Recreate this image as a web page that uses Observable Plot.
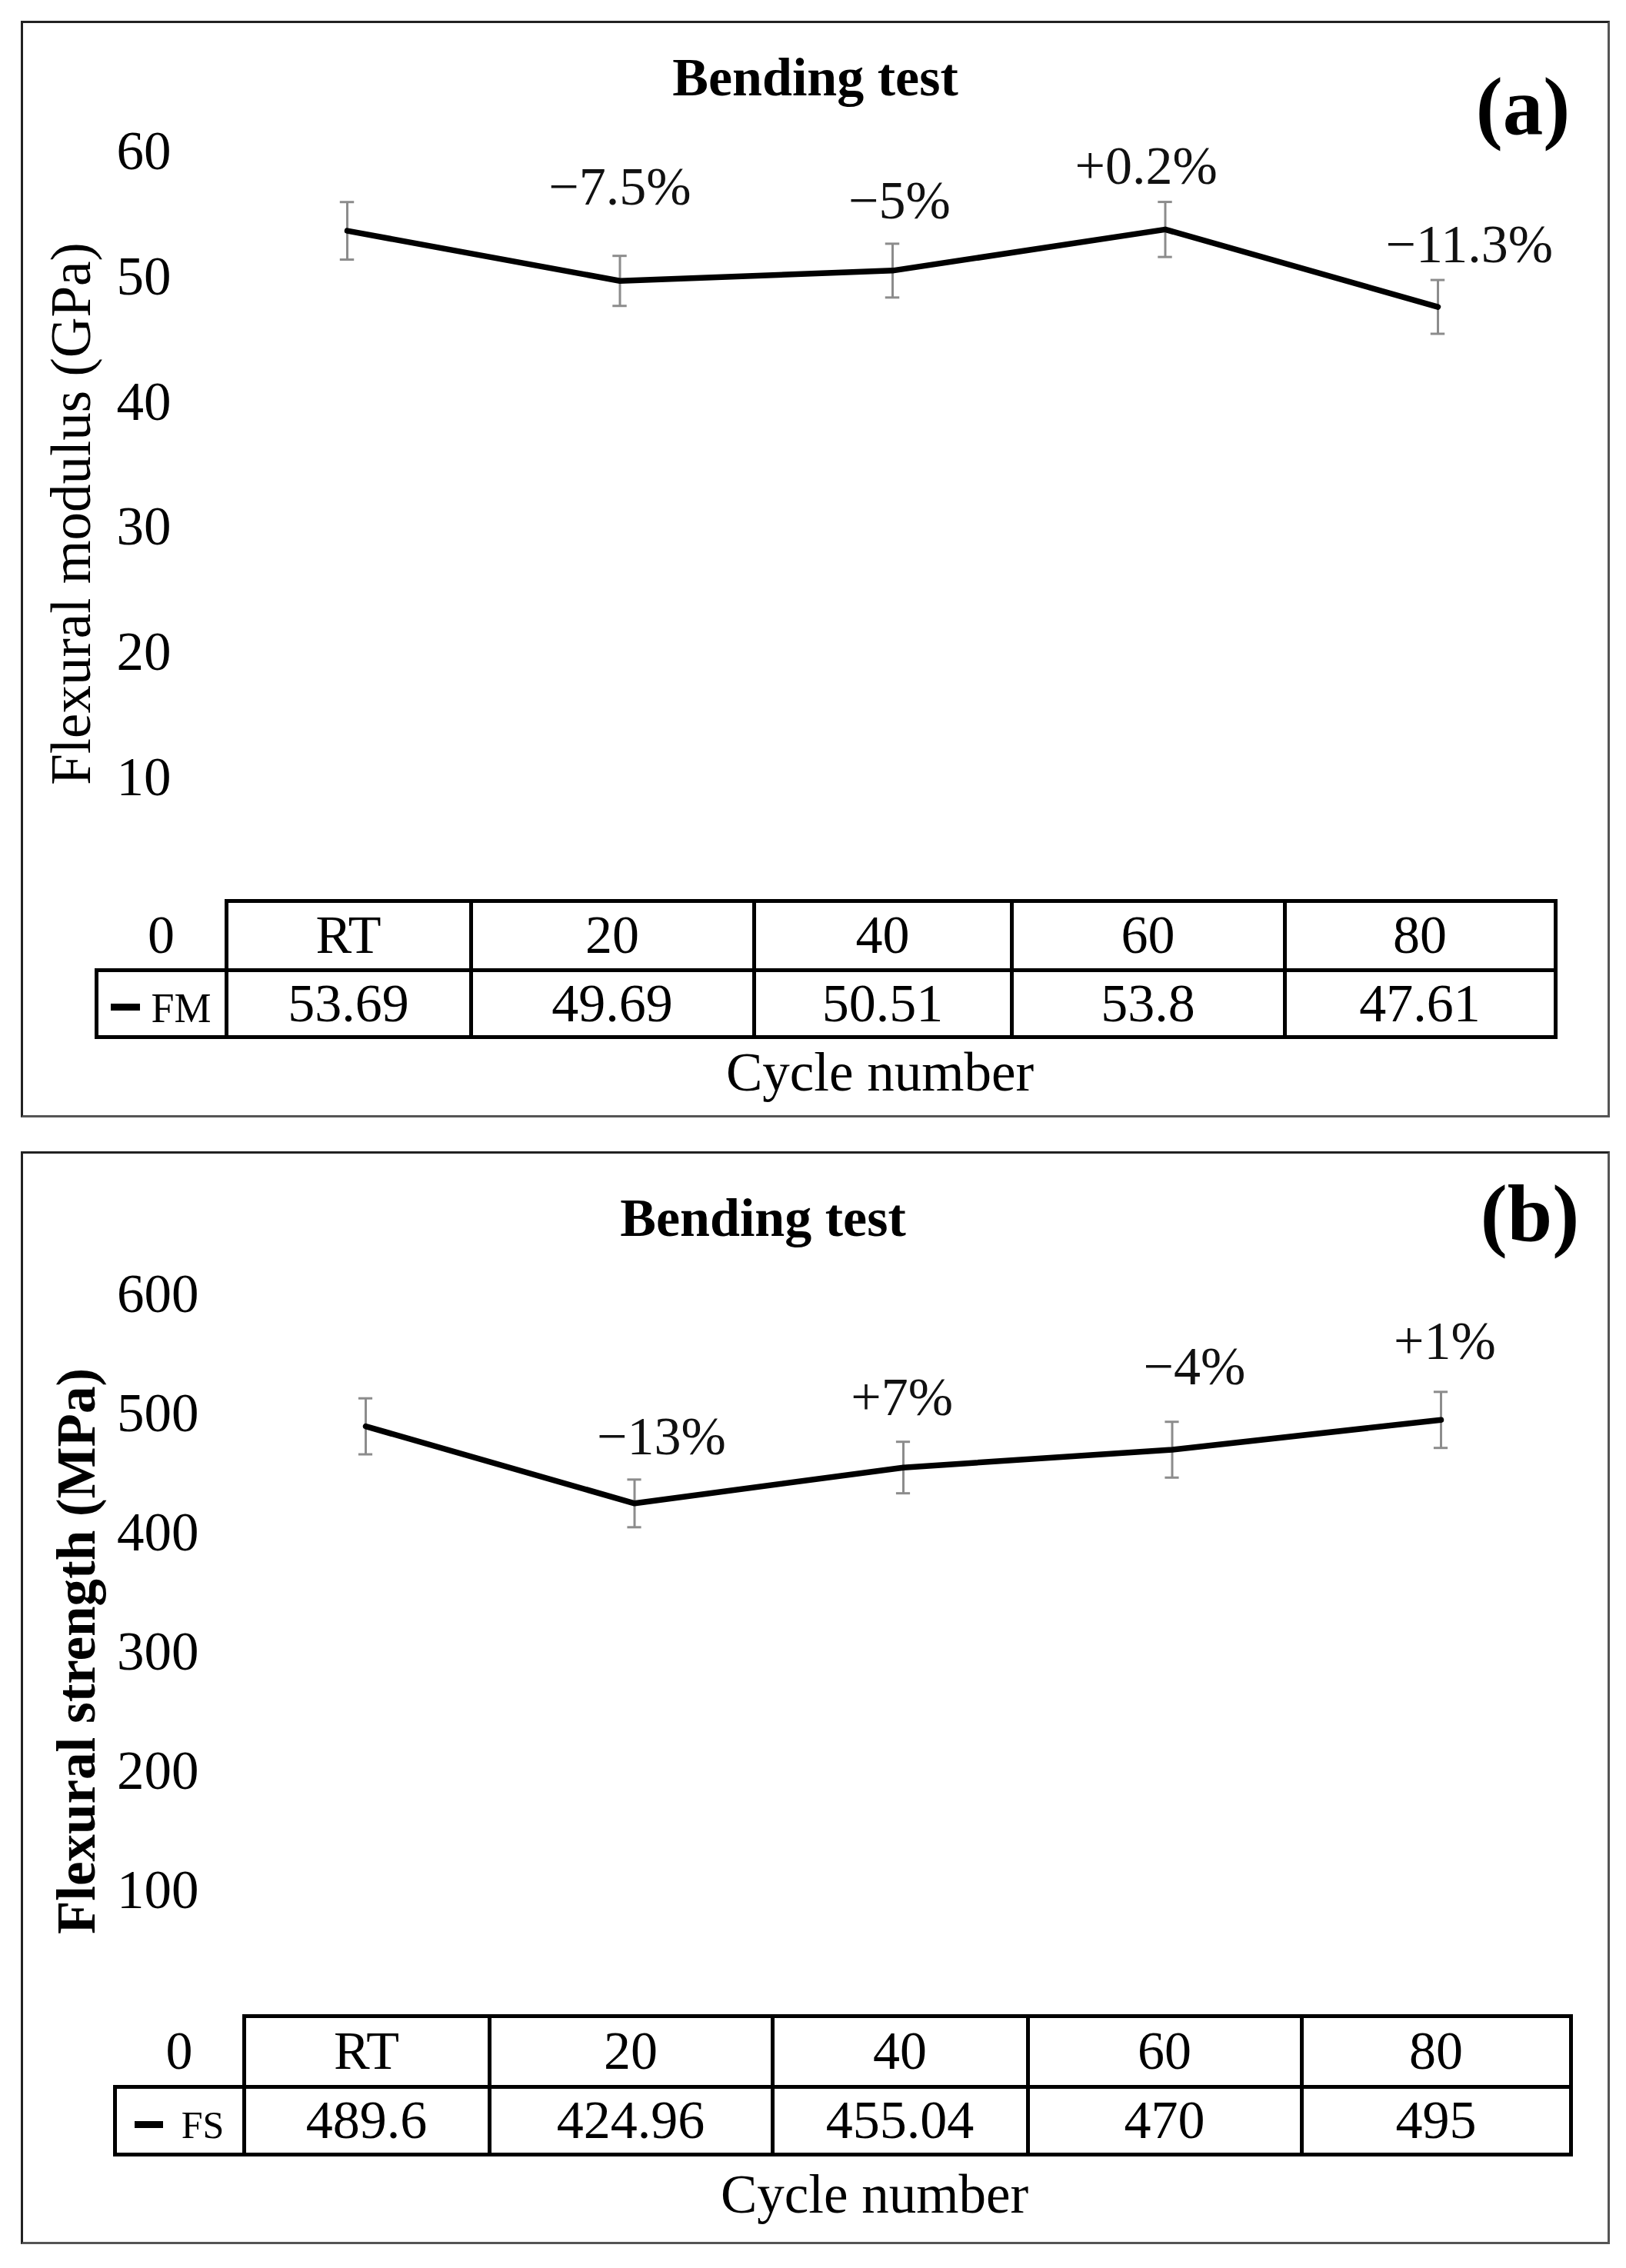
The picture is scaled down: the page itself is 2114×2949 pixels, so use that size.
<!DOCTYPE html>
<html>
<head>
<meta charset="utf-8">
<script src="https://cdn.jsdelivr.net/npm/d3@7"></script>
<script src="https://cdn.jsdelivr.net/npm/@observablehq/plot@0.6"></script>
<style>
  html, body { margin: 0; padding: 0; background: #fff; }
  #page { position: relative; width: 2114px; height: 2949px; background: #fff; overflow: hidden;
          font-family: "Liberation Serif", "Times New Roman", serif; color: #000; }
  .txt { position: absolute; line-height: 1; white-space: nowrap; }
  .frame { position: absolute; box-sizing: border-box; border: 3px solid #222; border-right-color: #555; border-bottom-color: #555; }
  .hl, .vl { position: absolute; background: #000; }
  .cell { position: absolute; display: flex; align-items: center; justify-content: center; line-height: 1; white-space: nowrap; }
</style>
</head>
<body>
<div id="page"></div>
<script>
// ---------- data ----------
const categories = ["RT", "20", "40", "60", "80"];

const fmValues = [53.69, 49.69, 50.51, 53.8, 47.61];
const fmErrors = [2.3, 2.0, 2.15, 2.2, 2.15];
const fmChange = ["", "\u22127.5%", "\u22125%", "+0.2%", "\u221211.3%"];
const fmChangeX = [null, 1.0, 2.025, 2.93, 4.115];
const fmChangeY = [null, 57.16, 56.05, 58.82, 52.55];
const fmTicks = [10, 20, 30, 40, 50, 60];

const fsValues = [489.6, 424.96, 455.04, 470, 495];
const fsErrors = [23.5, 20, 21.6, 23.4, 23.5];
const fsChange = ["", "\u221213%", "+7%", "\u22124%", "+1%"];
const fsChangeX = [null, 1.10, 1.995, 3.083, 4.014];
const fsChangeY = [null, 480.9, 513.8, 539.0, 560.3];
const fsTicks = [100, 200, 300, 400, 500, 600];

const page = document.getElementById("page");
const FONT = "'Liberation Serif', 'Times New Roman', serif";

function addText(text, cx, baseline, size, weight) {
  const d = document.createElement("div");
  d.className = "txt";
  d.textContent = text;
  d.style.fontSize = size + "px";
  d.style.fontWeight = weight || "normal";
  d.style.left = cx + "px";
  d.style.top = (baseline - 0.8375 * size) + "px";
  d.style.transform = "translateX(-50%)";
  page.appendChild(d);
}
function addYLabel(text, cx, cy, size, weight) {
  const d = document.createElement("div");
  d.className = "txt";
  d.textContent = text;
  d.style.fontSize = size + "px";
  d.style.fontWeight = weight || "normal";
  d.style.left = cx + "px";
  d.style.top = cy + "px";
  d.style.transform = "translate(-50%, -50%) rotate(-90deg)";
  page.appendChild(d);
}
function addFrame(l, t, r, b) {
  const d = document.createElement("div");
  d.className = "frame";
  d.style.left = l + "px"; d.style.top = t + "px";
  d.style.width = (r - l) + "px"; d.style.height = (b - t) + "px";
  page.appendChild(d);
}
function hline(x1, x2, y, w) {
  const d = document.createElement("div");
  d.className = "hl";
  d.style.left = (x1 - w / 2) + "px"; d.style.top = (y - w / 2) + "px";
  d.style.width = (x2 - x1 + w) + "px"; d.style.height = w + "px";
  page.appendChild(d);
}
function vline(x, y1, y2, w) {
  const d = document.createElement("div");
  d.className = "vl";
  d.style.left = (x - w / 2) + "px"; d.style.top = (y1 - w / 2) + "px";
  d.style.width = w + "px"; d.style.height = (y2 - y1 + w) + "px";
  page.appendChild(d);
}
function cell(x1, x2, y1, y2, content, size) {
  const d = document.createElement("div");
  d.className = "cell";
  d.style.left = x1 + "px"; d.style.top = y1 + "px";
  d.style.width = (x2 - x1) + "px"; d.style.height = (y2 - y1) + "px";
  d.style.fontSize = size + "px";
  if (typeof content === "string") d.textContent = content; else d.appendChild(content);
  page.appendChild(d);
}
function drawTable(top, mid, bottom, cols, header, values, series, dashW, gap, seriesSize) {
  const w = 5;
  hline(cols[1], cols[6], top, w);
  hline(cols[0], cols[6], mid, w);
  hline(cols[0], cols[6], bottom, w);
  vline(cols[0], mid, bottom, w);
  for (let k = 1; k <= 6; k++) vline(cols[k], top, bottom, w);
  cell(cols[0], cols[1], top, mid, "0", 70);
  const lab = document.createElement("span");
  lab.style.display = "inline-flex"; lab.style.alignItems = "center";
  const dash = document.createElement("span");
  dash.style.display = "inline-block"; dash.style.width = dashW + "px"; dash.style.height = "9px";
  dash.style.background = "#000"; dash.style.marginRight = gap + "px"; dash.style.marginTop = "10px";
  const t = document.createElement("span");
  t.textContent = series; t.style.fontSize = seriesSize + "px"; t.style.marginTop = "12px";
  lab.appendChild(dash); lab.appendChild(t);
  cell(cols[0], cols[1], mid, bottom, lab, 70);
  header.forEach((h, i) => cell(cols[i + 1], cols[i + 2], top, mid, h, 70));
  values.forEach((v, i) => cell(cols[i + 1], cols[i + 2], mid, bottom, String(v), 70));
}

function makeChart(values, errors, labels, lx, ly, ticks, yMax, opts) {
  const rows = values.map((v, i) => ({i, v, e: errors[i]}));
  const ann = labels.map((t, i) => ({t, x: lx[i], y: ly[i]})).filter(d => d.t !== "");
  const cap = opts.cap;
  return Plot.plot({
    width: 2114,
    height: opts.height,
    marginLeft: opts.ml, marginRight: opts.mr, marginTop: opts.mt, marginBottom: opts.mb,
    x: {type: "linear", domain: [0, categories.length - 1], axis: null},
    y: {type: "linear", domain: [0, yMax]},
    style: {fontFamily: FONT, fontSize: "71px", color: "#000", background: "transparent", overflow: "visible"},
    marks: [
      Plot.axisY(ticks, {tickSize: 0, tickPadding: opts.pad, fontSize: 71, fill: "#000", label: null}),
      Plot.ruleX(rows, {x: "i", y1: d => d.v - d.e, y2: d => d.v + d.e, stroke: "#8c8c8c", strokeWidth: 3}),
      Plot.ruleY(rows, {x1: d => d.i - cap, x2: d => d.i + cap, y: d => d.v + d.e, stroke: "#8c8c8c", strokeWidth: 3}),
      Plot.ruleY(rows, {x1: d => d.i - cap, x2: d => d.i + cap, y: d => d.v - d.e, stroke: "#8c8c8c", strokeWidth: 3}),
      Plot.line(rows, {x: "i", y: "v", stroke: "#000", strokeWidth: 7.5}),
      Plot.text(ann, {x: "x", y: "y", text: "t", fontSize: 70, fill: "#111"})
    ]
  });
}

// ---------- panel (a) ----------
addFrame(27, 27, 2093, 1453);
const chartA = makeChart(fmValues, fmErrors, fmChange, fmChangeX, fmChangeY, fmTicks, 60,
  {height: 1480, ml: 451, mr: 245, mt: 197, mb: 307, pad: 229, cap: 0.026});
chartA.style.position = "absolute"; chartA.style.left = "0px"; chartA.style.top = "0px";
page.appendChild(chartA);
addText("Bending test", 1060, 125, 70, "bold");
addText("(a)", 1980, 174, 105, "bold");
addYLabel("Flexural modulus (GPa)", 92, 668, 73, "normal");
drawTable(1171, 1261, 1348, [125, 294, 612, 980, 1315, 1670, 2022], categories, fmValues, "FM", 38, 14, 54);
addText("Cycle number", 1144, 1418, 71, "normal");

// ---------- panel (b) ----------
addFrame(27, 1497, 2093, 2918);
const chartB = makeChart(fsValues, fsErrors, fsChange, fsChangeX, fsChangeY, fsTicks, 600,
  {height: 1469, ml: 475, mr: 241, mt: 203, mb: 336, pad: 217, cap: 0.026});
chartB.style.position = "absolute"; chartB.style.left = "0px"; chartB.style.top = "1480px";
page.appendChild(chartB);
addText("Bending test", 992, 1608, 70, "bold");
addText("(b)", 1989, 1614, 105, "bold");
addYLabel("Flexural strength (MPa)", 99, 2147, 71, "bold");
drawTable(2621, 2713, 2801, [149, 317, 636, 1004, 1336, 1692, 2042], categories, fsValues, "FS", 37, 24, 50);
addText("Cycle number", 1137, 2877, 71, "normal");
</script>
</body>
</html>
